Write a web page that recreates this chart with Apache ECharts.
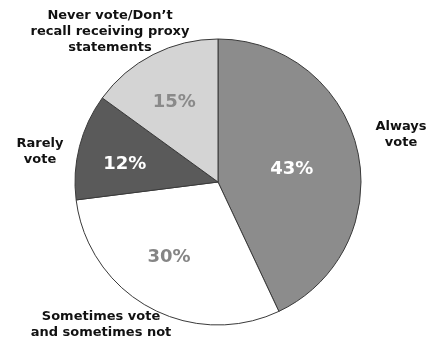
<!DOCTYPE html>
<html>
<head>
<meta charset="utf-8">
<script src="https://cdn.jsdelivr.net/npm/echarts@6/dist/echarts.min.js"></script>
<style>
  html, body { margin: 0; padding: 0; background: #fff; }
  #chart { width: 431px; height: 345px; }
</style>
</head>
<body>
<div id="chart"></div>
<script>
// Proxy voting habits, share of respondents (clockwise from 12 o'clock)
const categories = [
  'Always\nvote',
  'Sometimes vote\nand sometimes not',
  'Rarely\nvote',
  'Never vote/Don\u2019t\nrecall receiving proxy\nstatements'
];
const shares = [43, 30, 12, 15];
const sliceColors = ['#8c8c8c', '#ffffff', '#5a5a5a', '#d4d4d4'];
const valueLabelColors = ['#ffffff', '#858585', '#ffffff', '#8a8a8a'];

// Anchor points for the category names around the pie
const nameSpots = [
  [401, 135],
  [101, 325],
  [40, 152],
  [110, 32]
];

// Offsets that move the value labels to where they sit inside each slice
const valueShifts = [[1, 4], [-13, 10], [-21, 1], [-10, -13]];

const chart = echarts.init(document.getElementById('chart'), null, { renderer: 'canvas' });

const font = '"DejaVu Sans", Verdana, sans-serif';

chart.setOption({
  animation: false,
  backgroundColor: '#ffffff',
  graphic: categories.map((name, i) => ({
    type: 'text',
    x: nameSpots[i][0],
    y: nameSpots[i][1],
    silent: true,
    style: {
      text: name,
      fill: '#111111',
      font: 'bold 13px ' + font,
      lineHeight: 16,
      align: 'center',
      verticalAlign: 'middle'
    }
  })),
  series: [
    {
      type: 'pie',
      center: [218, 182],
      radius: [0, 143],
      startAngle: 90,
      clockwise: true,
      silent: true,
      itemStyle: { borderColor: '#3a3a3a', borderWidth: 1 },
      label: {
        position: 'inside',
        formatter: '{c}%',
        fontFamily: font,
        fontWeight: 'bold',
        fontSize: 18
      },
      labelLine: { show: false },
      data: shares.map((v, i) => ({
        value: v,
        name: categories[i],
        itemStyle: { color: sliceColors[i] },
        label: { color: valueLabelColors[i] }
      })),
      labelLayout: function (p) {
        const s = valueShifts[p.dataIndex];
        return { dx: s[0], dy: s[1] };
      }
    }
  ]
});
</script>
</body>
</html>
